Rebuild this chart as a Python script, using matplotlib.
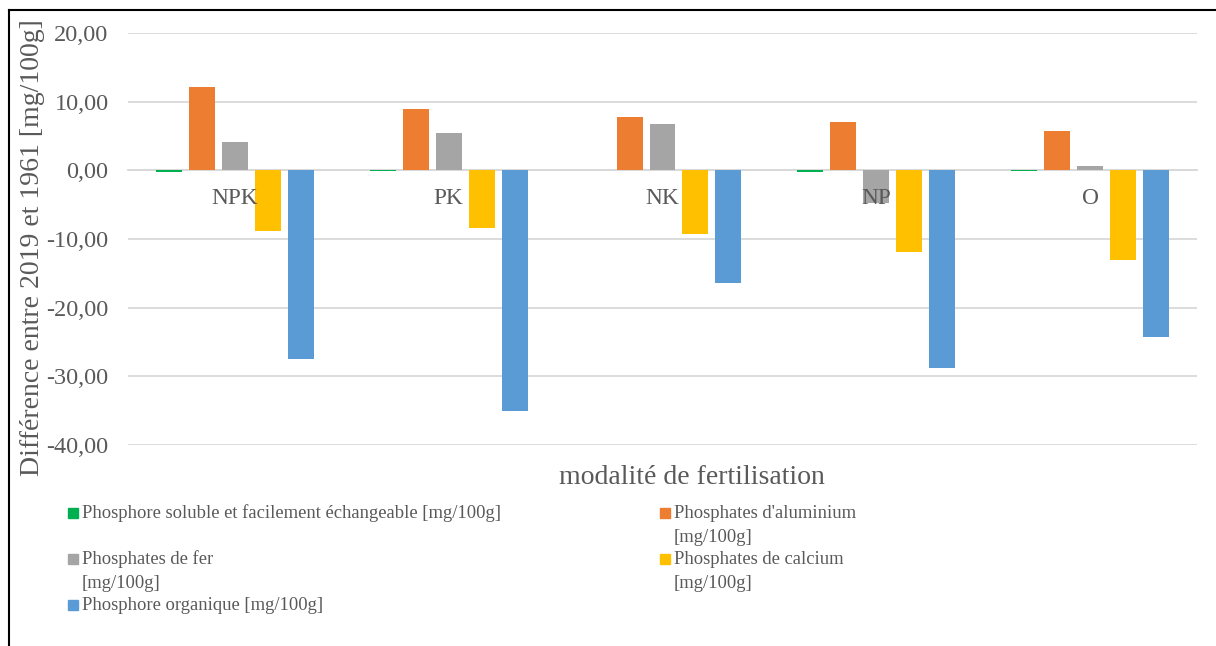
import matplotlib
matplotlib.use("Agg")
import matplotlib.pyplot as plt
from matplotlib.patches import Rectangle
from matplotlib.lines import Line2D
import numpy as np

plt.rcParams['font.family'] = ['Liberation Serif', 'DejaVu Serif']

categories = ["NPK", "PK", "NK", "NP", "O"]
series_names = [
    "Phosphore soluble et facilement échangeable [mg/100g]",
    "Phosphates d'aluminium [mg/100g]",
    "Phosphates de fer [mg/100g]",
    "Phosphates de calcium [mg/100g]",
    "Phosphore organique [mg/100g]",
]
p_soluble = [-0.3, -0.1, 0.1, -0.3, -0.1]
p_aluminium = [12.2, 8.9, 7.7, 7.1, 5.8]
p_fer = [4.1, 5.5, 6.7, -4.7, 0.6]
p_calcium = [-8.9, -8.4, -9.3, -11.9, -13.0]
p_organique = [-27.5, -35.0, -16.4, -28.8, -24.2]
yticks = [20, 10, 0, -10, -20, -30, -40]

colors = ["#00b050", "#ed7d31", "#a5a5a5", "#ffc000", "#5b9bd5"]
text_col = "#595959"

W, H = 1216, 646
fig = plt.figure(figsize=(W / 100, H / 100), dpi=100)
ax = fig.add_axes([128 / W, 1 - 445 / H, (1197 - 128) / W, (445 - 33) / H])

series = [p_soluble, p_aluminium, p_fer, p_calcium, p_organique]
x = np.arange(len(categories))
step = 0.154
width = 0.1215
for i, (vals, c) in enumerate(zip(series, colors)):
    ax.bar(x + (i - 2) * step, vals, width, color=c, zorder=3, linewidth=0)

ax.set_xlim(-0.5, len(categories) - 0.5)
ax.set_ylim(-40, 20)
ax.set_yticks(yticks)
ax.set_yticklabels([f"{v:.2f}".replace(".", ",") for v in yticks])
ax.grid(axis="y", color="#d9d9d9", linewidth=1.3, zorder=0)
ax.set_axisbelow(True)
for s in ["top", "right", "left"]:
    ax.spines[s].set_visible(False)
ax.spines["bottom"].set_position(("data", 0))
ax.spines["bottom"].set_color("#d9d9d9")
ax.spines["bottom"].set_linewidth(1.3)
ax.spines["bottom"].set_zorder(2)

ax.set_xticks(x)
ax.set_xticklabels(categories)
ax.tick_params(axis="x", length=0, pad=13, labelsize=16.8, labelcolor=text_col)
ax.tick_params(axis="y", length=0, pad=14, labelsize=17.5, labelcolor=text_col)
# category labels sit on top of the bars
ax.xaxis.set_zorder(5)

fig.text(33 / W, 1 - 248 / H, "Différence entre 2019 et 1961 [mg/100g]",
         rotation=90, ha="center", va="center", fontsize=20, color=text_col)
fig.text(692 / W, 1 - 477 / H, "modalité de fertilisation",
         ha="center", va="center", fontsize=20, color=text_col)

# legend, laid out in two columns; each entry: marker x, marker centre y, series, text lines
legend_rows = [
    (68, 513, 0, [(513, series_names[0])]),
    (660, 513, 1, [(513, "Phosphates d'aluminium"), (538, "[mg/100g]")]),
    (68, 559, 2, [(559, "Phosphates de fer"), (583, "[mg/100g]")]),
    (660, 559, 3, [(559, "Phosphates de calcium"), (584, "[mg/100g]")]),
    (68, 605, 4, [(605, series_names[4])]),
]
for px, py, idx, lines in legend_rows:
    fig.patches.append(Rectangle((px / W, 1 - (py + 5) / H), 10 / W, 10 / H,
                                 transform=fig.transFigure, color=colors[idx]))
    for ty, txt in lines:
        fig.text((px + 14) / W, 1 - ty / H, txt, ha="left", va="center",
                 fontsize=13.4, color=text_col)

# outer frame (top and left edges)
fig.add_artist(Line2D([9 / W, 1], [1 - 10 / H, 1 - 10 / H],
                      transform=fig.transFigure, color="black", linewidth=1.5))
fig.add_artist(Line2D([9 / W, 9 / W], [0, 1 - 10 / H],
                      transform=fig.transFigure, color="black", linewidth=1.5))

fig.savefig("out.png", dpi=100, facecolor="white")
